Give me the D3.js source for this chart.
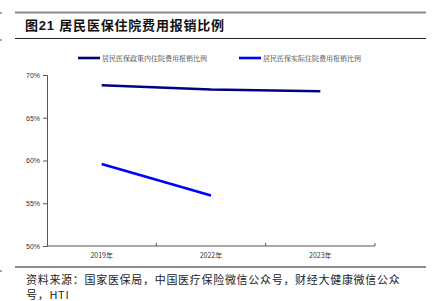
<!DOCTYPE html>
<html>
<head>
<meta charset="utf-8">
<script src="https://cdn.jsdelivr.net/npm/d3@7"></script>
<style>
  body { margin: 0; background: #fff; }
  svg { display: block; }
</style>
</head>
<body>
<div id="chart"></div>
<script>
// data
const years = ["2019年", "2022年", "2023年"];
const policyRate = [68.8, 68.3, 68.1];   // 政策内
const actualRate = [59.6, 55.9, null];    // 实际
const yTicks = [50, 55, 60, 65, 70];
const seriesNames = ["居民医保政策内住院费用报销比例", "居民医保实际住院费用报销比例"];

const width = 439, height = 301;
const cjk = '"Noto Sans CJK SC", sans-serif';
const latin = '"Liberation Sans", Arial, sans-serif';

const svg = d3.select("#chart").append("svg")
  .attr("width", width)
  .attr("height", height);

// rules
svg.append("line").attr("x1", 15).attr("x2", 426).attr("y1", 12.5).attr("y2", 12.5)
  .attr("stroke", "#8c8c8c").attr("stroke-width", 2);
svg.append("line").attr("x1", 15).attr("x2", 426).attr("y1", 38.5).attr("y2", 38.5)
  .attr("stroke", "#222").attr("stroke-width", 1);
svg.append("line").attr("x1", 15).attr("x2", 426).attr("y1", 267).attr("y2", 267)
  .attr("stroke", "#8c8c8c").attr("stroke-width", 2);
// small marks at the left edge
[13, 40, 271].forEach(y => svg.append("line").attr("x1", 0).attr("x2", 2).attr("y1", y).attr("y2", y)
  .attr("stroke", "#444"));

// title
const title = svg.append("text").attr("x", 25).attr("y", 30)
  .attr("font-family", cjk).attr("font-size", 13).attr("font-weight", "bold").attr("fill", "#111")
  .attr("letter-spacing", 0.8);
title.append("tspan").text("图");
title.append("tspan").attr("font-family", latin).text("21 ");
title.append("tspan").text("居民医保住院费用报销比例");

// scales
const x = d3.scaleBand().domain(years).range([47, 375]);
const y = d3.scaleLinear().domain([50, 70]).range([246, 75]);

const g = svg.append("g");

// y axis
g.append("g")
  .attr("transform", "translate(47,0)")
  .call(d3.axisLeft(y).tickValues(yTicks).tickFormat(d => d + "%").tickSize(4).tickPadding(3))
  .call(a => a.selectAll("text").attr("font-family", latin)
    .attr("font-size", 7).attr("fill", "#333"))
  .call(a => a.selectAll("line,path").attr("stroke", "#555"));

// x axis, ticks at band edges
const xAxis = g.append("g").attr("transform", "translate(0,246)");
xAxis.append("line").attr("x1", 47).attr("x2", 375).attr("stroke", "#555");
xAxis.selectAll(".tk").data(years).enter().append("line")
  .attr("x1", d => x(d) + x.bandwidth()).attr("x2", d => x(d) + x.bandwidth())
  .attr("y1", 0).attr("y2", -3).attr("stroke", "#555");
xAxis.selectAll("text").data(years).enter().append("text")
  .attr("x", d => x(d) + x.bandwidth() / 2).attr("y", 12)
  .attr("text-anchor", "middle")
  .attr("font-family", cjk).attr("font-size", 7).attr("fill", "#333")
  .text(d => d);

// lines
const line = d3.line()
  .defined(d => d.v != null)
  .x(d => x(d.k) + x.bandwidth() / 2)
  .y(d => y(d.v));

const series = [
  { name: seriesNames[0], color: "#000080", values: policyRate },
  { name: seriesNames[1], color: "#0000ff", values: actualRate }
];

series.forEach(s => {
  g.append("path")
    .datum(years.map((k, i) => ({ k: k, v: s.values[i] })))
    .attr("d", line)
    .attr("fill", "none")
    .attr("stroke", s.color)
    .attr("stroke-width", 2.6);
});

// legend
const legX = [78, 239];
series.forEach((s, i) => {
  const lg = svg.append("g").attr("transform", `translate(${legX[i]},58)`);
  lg.append("line").attr("x1", 0).attr("x2", 22).attr("stroke", s.color).attr("stroke-width", 2.6);
  lg.append("text").attr("x", 24).attr("y", 2.5)
    .attr("font-family", '"Noto Serif CJK SC", "Noto Sans CJK SC", serif')
    .attr("font-size", 7).attr("fill", "#333")
    .text(s.name);
});

// source
const src = svg.append("text").attr("font-family", cjk).attr("font-size", 11).attr("fill", "#222")
  .attr("letter-spacing", 0.7);
src.append("tspan").attr("x", 26).attr("y", 284).text("资料来源：国家医保局，中国医疗保险微信公众号，财经大健康微信公众");
src.append("tspan").attr("x", 26).attr("y", 299).text("号，HTI");
</script>
</body>
</html>
